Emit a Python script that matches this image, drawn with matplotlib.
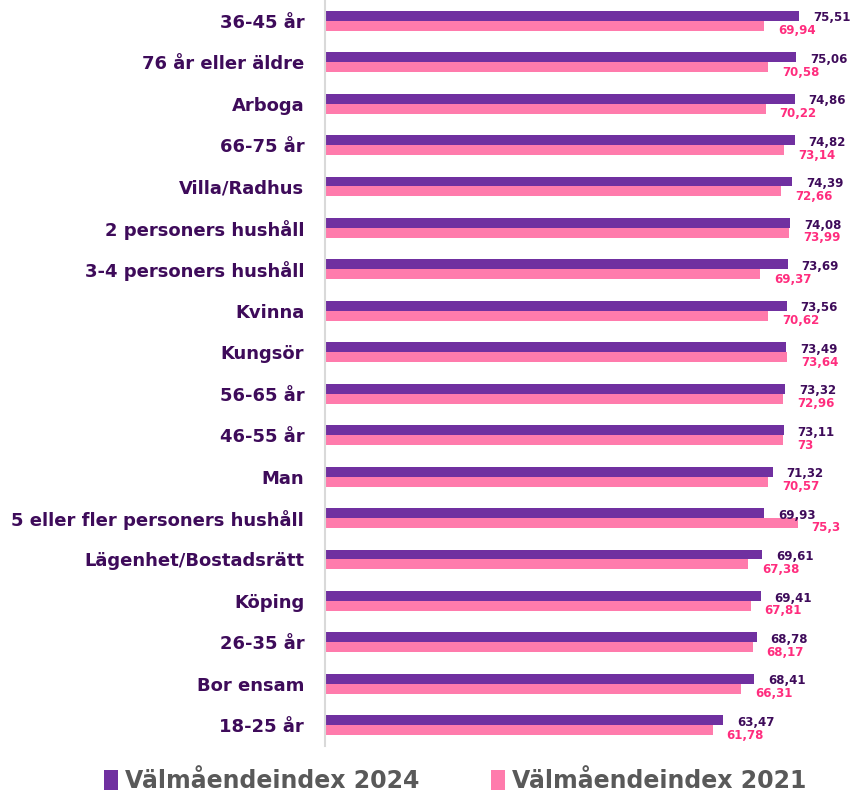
import matplotlib.pyplot as plt
import numpy as np

# data, top to bottom
categories = ["36-45 år", "76 år eller äldre", "Arboga", "66-75 år", "Villa/Radhus",
              "2 personers hushåll", "3-4 personers hushåll", "Kvinna", "Kungsör",
              "56-65 år", "46-55 år", "Man", "5 eller fler personers hushåll",
              "Lägenhet/Bostadsrätt", "Köping", "26-35 år", "Bor ensam", "18-25 år"]
idx_2024 = [75.51, 75.06, 74.86, 74.82, 74.39, 74.08, 73.69, 73.56, 73.49,
            73.32, 73.11, 71.32, 69.93, 69.61, 69.41, 68.78, 68.41, 63.47]
idx_2021 = [69.94, 70.58, 70.22, 73.14, 72.66, 73.99, 69.37, 70.62, 73.64,
            72.96, 73.0, 70.57, 75.3, 67.38, 67.81, 68.17, 66.31, 61.78]
labels_2024 = ["75,51", "75,06", "74,86", "74,82", "74,39", "74,08", "73,69", "73,56", "73,49",
               "73,32", "73,11", "71,32", "69,93", "69,61", "69,41", "68,78", "68,41", "63,47"]
labels_2021 = ["69,94", "70,58", "70,22", "73,14", "72,66", "73,99", "69,37", "70,62", "73,64",
               "72,96", "73", "70,57", "75,3", "67,38", "67,81", "68,17", "66,31", "61,78"]

purple = "#7030A0"
pink = "#FF7BAC"
label_purple = "#3E0B5A"
label_pink = "#FF2D7E"
grey = "#595959"

fig = plt.figure(figsize=(8.51, 7.97), dpi=100)
ax = fig.add_axes([0.382, 0.064, 0.59, 0.936])

y = np.arange(len(categories))
h = 0.24
ax.barh(y - h / 2, idx_2024, height=h, color=purple, label="Välmåendeindex 2024")
ax.barh(y + h / 2, idx_2021, height=h, color=pink, label="Välmåendeindex 2021")

# value labels, outside end of each bar
for i in range(len(categories)):
    ax.text(idx_2024[i] + 2.2, y[i] - h / 2 + 0.05, labels_2024[i], color=label_purple,
            fontsize=8.5, fontweight="bold", ha="left", va="center")
    ax.text(idx_2021[i] + 2.2, y[i] + h / 2 + 0.12, labels_2021[i], color=label_pink,
            fontsize=8.5, fontweight="bold", ha="left", va="center")

ax.set_xlim(0, 80)
ax.set_ylim(len(categories) - 0.5, -0.5)
ax.set_yticks(y)
ax.set_yticklabels(categories, fontsize=13, fontweight="bold", color=label_purple)
ax.tick_params(axis="y", length=0, pad=15)
ax.set_xticks([])
for s in ["top", "right", "bottom"]:
    ax.spines[s].set_visible(False)
ax.spines["left"].set_color("#D9D9D9")
ax.spines["left"].set_linewidth(1.5)

fig.legend(loc="lower center", bbox_to_anchor=(0.535, -0.022), ncol=2, frameon=False,
           prop={"size": 17, "weight": "bold"}, labelcolor=grey, handlelength=0.6,
           handleheight=0.9, handletextpad=0.3, columnspacing=3.0)

plt.savefig("out.png", dpi=100)
